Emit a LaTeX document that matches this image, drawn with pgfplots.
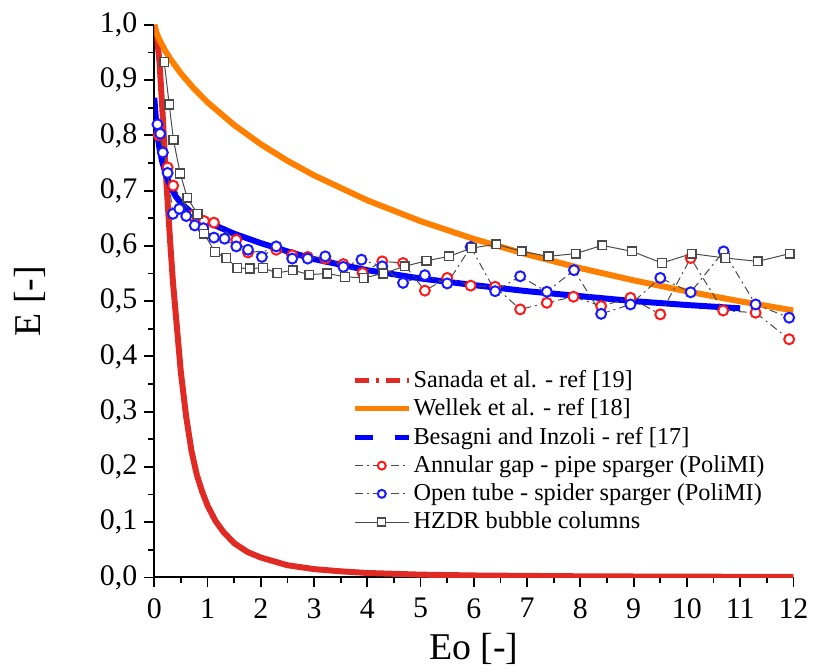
\documentclass[border=0pt]{standalone}
\usepackage{fontspec}
\setmainfont{Liberation Serif}
\usepackage{pgfplots}
\pgfplotsset{compat=1.18}
\definecolor{sanada}{HTML}{E02A24}
\definecolor{wellek}{HTML}{FF8000}
\definecolor{besagni}{HTML}{0000FF}
\definecolor{annred}{HTML}{FF1A1A}
\definecolor{openblue}{HTML}{1A1AFF}
\definecolor{hzdr}{HTML}{4A4A4A}

\pgfplotsset{
  legline/.style={legend image code/.code={\draw[##1, line width=2.5pt, #1] (0pt,0pt) -- (27pt,0pt);}},
  legline/.default={},
  legmark/.style={legend image code/.code={\draw[##1, mark size=2pt, mark repeat=2, mark phase=2]
    plot coordinates {(0pt,0pt) (13.5pt,0pt) (27pt,0pt)};}},
}

\begin{document}
\begin{tikzpicture}
\begin{axis}[
  name=ax,
  scale only axis, width=321pt, height=277.5pt,
  xmin=0, xmax=12, ymin=0, ymax=1,
  axis lines=left, axis line style={-, line width=1pt},
  xtick={0,1,2,3,4,5,6,7,8,9,10,11,12},
  ytick={0,0.1,0.2,0.3,0.4,0.5,0.6,0.7,0.8,0.9,1},
  minor x tick num=1, minor y tick num=1,
  tick align=outside, major tick length=5pt, minor tick length=3pt,
  every tick/.style={black, line width=0.9pt},
  yticklabel style={/pgf/number format/.cd, use comma, fixed, fixed zerofill, precision=1},
  /pgf/number format/assume math mode=true,
  tick label style={font=\fontsize{15}{17}\selectfont},
  xticklabel style={yshift=-2pt},
  xlabel={Eo [-]}, ylabel={E [-]},
  label style={font=\fontsize{19}{22}\selectfont},
  xlabel style={at={(axis description cs:0.5,-0.13)}, anchor=center},
  ylabel style={at={(axis description cs:-0.195,0.5)}, anchor=center},
  legend style={at={(rel axis cs:0.300,0.387)}, anchor=north west,
    draw=none, fill=none, font=\fontsize{12.2}{14.5}\selectfont,
    nodes={inner sep=1.2pt}, row sep=1.8pt},
  legend cell align=left,
]
% Sanada et al.
\addplot[sanada, line width=3pt,
  legline={dash pattern=on 7pt off 3.5pt on 1.5pt off 3.5pt}]
  coordinates {
    (0,1.0) (0.05,0.98) (0.1,0.93) (0.15,0.85) (0.2,0.76) (0.25,0.68)
    (0.3,0.605) (0.35,0.535) (0.4,0.48) (0.45,0.425) (0.5,0.37) (0.6,0.29)
    (0.7,0.228) (0.8,0.185) (0.9,0.155) (1.0,0.13) (1.15,0.102) (1.3,0.082)
    (1.5,0.062) (1.75,0.046) (2.0,0.036) (2.5,0.022) (3.0,0.015) (3.5,0.011)
    (4.0,0.008) (5.0,0.005) (6.0,0.0035) (8.0,0.002) (10.0,0.0013) (12.0,0.001)
  };
\addlegendentry{Sanada et al. - ref [19]}
% Wellek et al.
\addplot[wellek, line width=3pt, legline]
  coordinates {
    (0,1.0) (0.05,0.9834) (0.1,0.9723) (0.2,0.954) (0.3,0.9385) (0.5,0.912)
    (0.75,0.8841) (1,0.8598) (1.5,0.8187) (2,0.784) (2.5,0.754) (3,0.7276)
    (4,0.6824) (5,0.6447) (6,0.6125) (7,0.5845) (8,0.5597) (9,0.5376)
    (10,0.5177) (11,0.4997) (12,0.4831)
  };
\addlegendentry{Wellek et al. - ref [18]}
% Besagni and Inzoli
\addplot[besagni, line width=3pt, legline={dash pattern=on 9pt off 11pt}]
  coordinates {
    (0,0.868) (0.03,0.83) (0.06,0.80) (0.1,0.775) (0.15,0.752) (0.2,0.735)
    (0.3,0.708) (0.4,0.69) (0.5,0.677) (0.75,0.656) (1,0.643) (1.5,0.622)
    (2,0.605) (2.5,0.59) (3,0.576) (4,0.556) (5,0.541) (6,0.529) (7,0.518)
    (8,0.509) (9,0.500) (10,0.493) (11,0.487)
  };
\addlegendentry{Besagni and Inzoli - ref [17]}
% Annular gap - pipe sparger
\addplot[hzdr, line width=0.5pt, dash pattern=on 4pt off 2pt on 1pt off 2pt,
  mark=*, mark size=2.5pt,
  mark options={solid, draw=annred, fill=white, line width=1pt}, legmark]
  coordinates {
    (0.08,0.80) (0.25,0.742) (0.355,0.709) (0.70,0.655) (0.935,0.645)
    (1.12,0.642) (1.54,0.611) (1.76,0.588) (2.29,0.593) (2.59,0.583)
    (2.88,0.580) (3.21,0.577) (3.55,0.567) (3.91,0.551) (4.28,0.572)
    (4.67,0.569) (5.08,0.519) (5.50,0.542) (5.94,0.528) (6.40,0.526)
    (6.87,0.485) (7.37,0.497) (7.87,0.508) (8.39,0.491) (8.94,0.506)
    (9.50,0.476) (10.07,0.578) (10.68,0.483) (11.29,0.479) (11.92,0.431)
  };
\addlegendentry{Annular gap - pipe sparger (PoliMI)}
% Open tube - spider sparger
\addplot[hzdr, line width=0.5pt, dash pattern=on 4pt off 2pt on 1pt off 2pt,
  mark=*, mark size=2.5pt,
  mark options={solid, draw=openblue, fill=white, line width=1pt}, legmark]
  coordinates {
    (0.06,0.82) (0.11,0.803) (0.16,0.769) (0.25,0.732) (0.35,0.658)
    (0.47,0.667) (0.60,0.654) (0.76,0.637) (0.92,0.632) (1.12,0.615)
    (1.32,0.613) (1.54,0.599) (1.76,0.593) (2.02,0.580) (2.29,0.599)
    (2.59,0.577) (2.88,0.577) (3.21,0.581) (3.55,0.562) (3.89,0.575)
    (4.28,0.563) (4.67,0.533) (5.08,0.547) (5.50,0.532) (5.94,0.598)
    (6.40,0.518) (6.87,0.545) (7.37,0.517) (7.88,0.556) (8.39,0.477)
    (8.94,0.494) (9.50,0.542) (10.07,0.516) (10.69,0.590) (11.29,0.494)
    (11.92,0.470)
  };
\addlegendentry{Open tube - spider sparger (PoliMI)}
% HZDR bubble columns
\addplot[hzdr, line width=0.5pt,
  mark=square*, mark size=2.2pt,
  mark options={solid, draw=hzdr, fill=white, line width=0.7pt}, legmark]
  coordinates {
    (0.187,0.933) (0.28,0.856) (0.36,0.792) (0.486,0.731) (0.62,0.687)
    (0.81,0.658) (0.935,0.622) (1.14,0.589) (1.35,0.578) (1.56,0.560)
    (1.79,0.559) (2.04,0.560) (2.31,0.551) (2.60,0.556) (2.91,0.548)
    (3.25,0.550) (3.58,0.544) (3.93,0.542) (4.30,0.550) (4.70,0.563)
    (5.11,0.573) (5.53,0.581) (5.96,0.596) (6.42,0.603) (6.90,0.590)
    (7.40,0.581) (7.91,0.586) (8.41,0.601) (8.97,0.590) (9.53,0.569)
    (10.09,0.586) (10.72,0.578) (11.33,0.572) (11.93,0.586)
  };
\addlegendentry{HZDR bubble columns}
\coordinate (bl) at (rel axis cs:-0.2414,-0.1622);
\coordinate (tr) at (rel axis cs:1.028,1.045);
\end{axis}
\useasboundingbox (bl) rectangle (tr);
\end{tikzpicture}
\end{document}
